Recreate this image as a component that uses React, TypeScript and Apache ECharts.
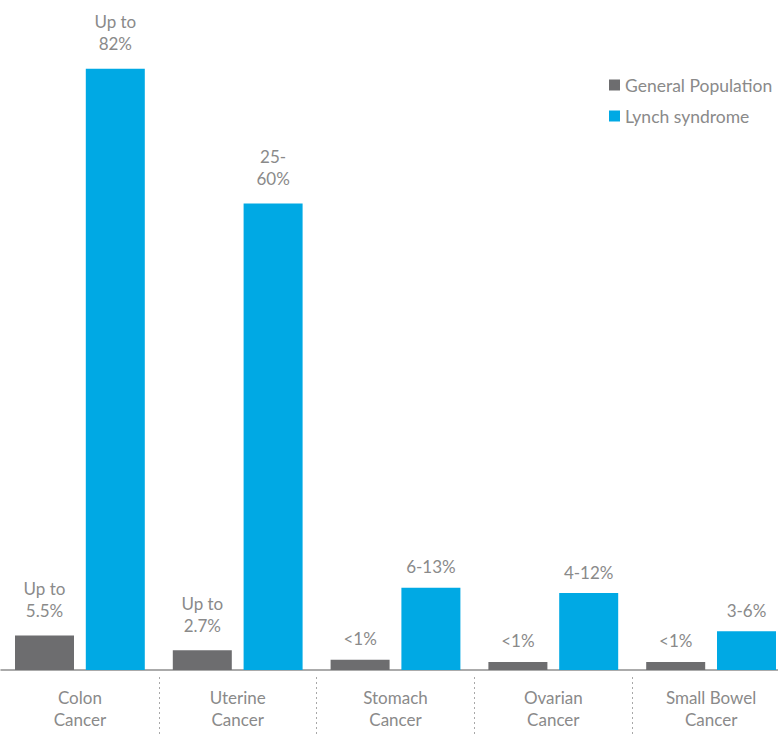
import React, { useEffect, useRef } from "react";
import * as echarts from "echarts";

const categories = ["Colon\nCancer", "Uterine\nCancer", "Stomach\nCancer", "Ovarian\nCancer", "Small Bowel\nCancer"];
const generalValues = [4.7, 2.7, 1.4, 1.1, 1.1];
const lynchValues = [82, 63.6, 11.2, 10.5, 5.3];
const generalLabels = ["Up to\n5.5%", "Up to\n2.7%", "<1%", "<1%", "<1%"];
const lynchLabels = ["Up to\n82%", "25-\n60%", "6-13%", "4-12%", "3-6%"];
const seriesNames = ["General Population", "Lynch syndrome"];

const FONT = "Lato, 'Open Sans', sans-serif";
const TEXT = "#8a8a8a";

function buildData(values: number[], labels: string[]) {
  return values.map((v, i) => ({
    value: v,
    label: {
      formatter: labels[i],
      distance: labels[i].includes("\n") ? 14 : 10,
    },
  }));
}

export default function App() {
  const ref = useRef<HTMLDivElement>(null);
  useEffect(() => {
    if (!ref.current) return;
    const chart = echarts.init(ref.current, null, { renderer: "svg" });
    const labelStyle = {
      show: true,
      position: "top",
      color: TEXT,
      fontFamily: FONT,
      fontSize: 17,
      lineHeight: 22,
    };
    chart.setOption({
      animation: false,
      backgroundColor: "#ffffff",
      legend: {
        data: seriesNames,
        orient: "vertical",
        left: 604,
        top: 71,
        icon: "rect",
        itemWidth: 11,
        itemHeight: 11,
        itemGap: 13,
        textStyle: { color: TEXT, fontFamily: FONT, fontSize: 17.5 },
      },
      grid: { left: 1, top: 10, right: 0, bottom: 67, containLabel: false },
      xAxis: [
        {
          type: "category",
          data: categories,
          position: "bottom",
          axisLine: { show: true, lineStyle: { color: "#8f8f8f", width: 1.5 } },
          axisTick: { show: false },
          axisLabel: {
            color: TEXT,
            fontFamily: FONT,
            fontSize: 17,
            lineHeight: 22,
            margin: 16,
            interval: 0,
          },
          splitLine: { show: false },
        },
        {
          type: "category",
          data: categories,
          position: "bottom",
          offset: 7,
          axisLine: { show: false },
          axisLabel: { show: false },
          axisTick: {
            show: true,
            length: 62,
            interval: (i: number) => i !== 0,
            lineStyle: { color: "#a8a8a8", width: 1, type: [2, 3] },
          },
          splitLine: { show: false },
        },
      ],
      yAxis: {
        type: "value",
        min: 0,
        max: 90,
        show: false,
        splitLine: { show: false },
      },
      series: [
        {
          name: seriesNames[0],
          type: "bar",
          xAxisIndex: 0,
          data: buildData(generalValues, generalLabels),
          itemStyle: { color: "#6d6d6f" },
          barWidth: 59,
          barGap: "20%",
          label: labelStyle,
        },
        {
          name: seriesNames[1],
          type: "bar",
          xAxisIndex: 0,
          data: buildData(lynchValues, lynchLabels),
          itemStyle: { color: "#00a9e4" },
          barWidth: 59,
          barGap: "20%",
          label: labelStyle,
        },
      ],
    });
    return () => chart.dispose();
  }, []);
  return (
    <div
      style={{ position: "fixed", left: 0, top: 0, width: 778, height: 737, overflow: "hidden" }}
    >
      <div ref={ref} style={{ width: 790, height: 737 }} />
    </div>
  );
}
